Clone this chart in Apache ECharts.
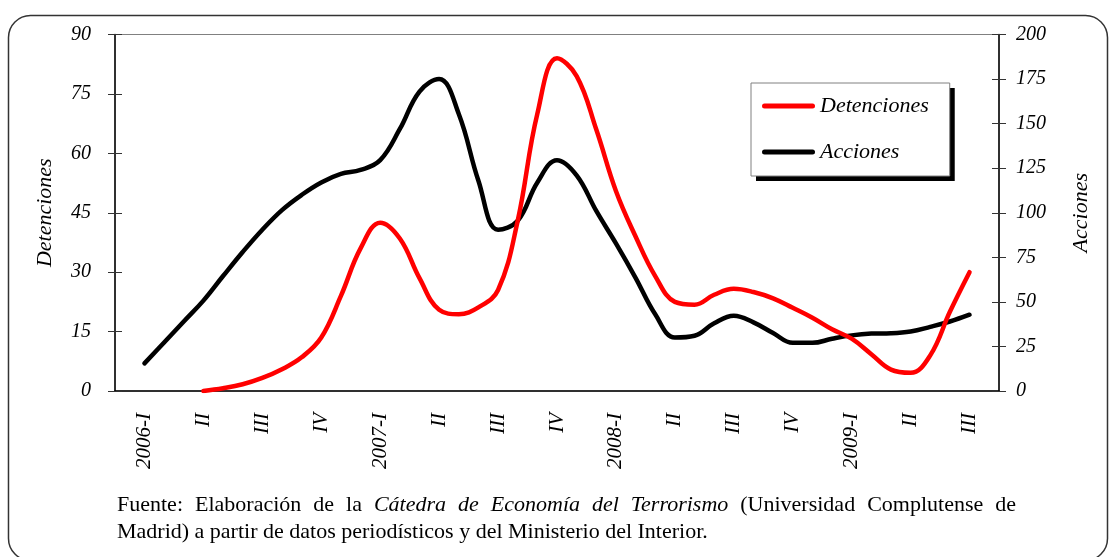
<!DOCTYPE html>
<html><head><meta charset="utf-8">
<script src="https://cdn.jsdelivr.net/npm/echarts@6/dist/echarts.min.js"></script>
<style>html,body{margin:0;padding:0;background:#fff}#c{width:1109px;height:557px}</style>
</head><body><div id="c"></div>
<script>
const quarterLabels = ['2006-I','II','III','IV','2007-I','II','III','IV','2008-I','II','III','IV','2009-I','II','III'];
const months = [];
for (let y = 2006; y <= 2009; y++) for (let m = 1; m <= 12; m++) if (months.length < 45) months.push(y + '-' + String(m).padStart(2, '0'));
const detenciones = [null, null, null, null, 0, 0.7, 1.7, 3.3, 5.5, 8.5, 13.5, 24, 36, 42.5, 38.5, 28.5, 20.5, 19.4, 21.1, 25.5, 43, 70, 84, 79.5, 66, 50.5, 39, 29, 22.5, 21.8, 24.3, 25.8, 25, 23.4, 21, 18.5, 15.6, 13.2, 9.3, 5.4, 4.6, 9, 20, 30, null];
const acciones = [null, 15.5, 27.2, 39, 50.7, 64.5, 78, 90.5, 101.5, 110, 117, 121.8, 124, 129.5, 147, 168, 175, 155.4, 118, 90.5, 95.5, 117, 129.5, 121, 101, 82.8, 63.5, 43, 30, 31, 38, 42.2, 38.5, 32.5, 27, 27, 29.3, 31.2, 32.2, 32.4, 33.4, 36, 39, 42.8, null];
const leftTicks = {min: 0, max: 90, interval: 15};
const rightTicks = {min: 0, max: 200, interval: 25};
const sourceLine1 = [['n','Fuente:'],['n','Elaboración'],['n','de'],['n','la'],['i','Cátedra'],['i','de'],['i','Economía'],['i','del'],['i','Terrorismo'],['n','(Universidad'],['n','Complutense'],['n','de']];
const sourceLine2 = 'Madrid) a partir de datos periodísticos y del Ministerio del Interior.';

const FF = 'Liberation Serif';
const iconPath = 'path://M2.5,0 L50.5,0 A2.5,2.5 0 0 1 50.5,5 L2.5,5 A2.5,2.5 0 0 1 2.5,0 Z';
const chart = echarts.init(document.getElementById('c'));
const tickStyle = {color: '#333', width: 1};
const legendBase = {
  data: ['Detenciones', 'Acciones'], orient: 'vertical', left: 751, top: 83,
  padding: [12, 21, 13, 11], itemGap: 24, itemWidth: 53, itemHeight: 5, icon: iconPath,
  textStyle: {fontFamily: FF, fontStyle: 'italic', fontSize: 22, color: '#000'}
};
const line1 = sourceLine1.map(([s, w]) => '{' + s + '|' + w + '}').join('{s| }');
chart.setOption({
  animation: false,
  backgroundColor: '#fff',
  graphic: [{type: 'rect', shape: {x: 8.5, y: 15.5, width: 1099, height: 545, r: 22}, style: {fill: 'none', stroke: '#333', lineWidth: 1.5}, silent: true}],
  title: {
    left: 112, top: 487,
    text: line1 + '\n{n|' + sourceLine2 + '}',
    textStyle: {fontWeight: 'normal', rich: {
      n: {fontFamily: FF, fontSize: 22, fontWeight: 'normal', color: '#000', lineHeight: 27},
      i: {fontFamily: FF, fontSize: 22, fontWeight: 'normal', color: '#000', lineHeight: 27, fontStyle: 'italic'},
      s: {fontFamily: FF, fontSize: 22, lineHeight: 27, width: 12}
    }}
  },
  legend: [
    Object.assign({}, legendBase, {backgroundColor: '#fff', borderWidth: 0,
      shadowColor: '#000', shadowBlur: 0, shadowOffsetX: 5, shadowOffsetY: 5}),
    Object.assign({}, legendBase, {backgroundColor: 'transparent', borderColor: '#808080', borderWidth: 1,
      itemStyle: {opacity: 0}, textStyle: Object.assign({}, legendBase.textStyle, {color: 'rgba(0,0,0,0)'})})
  ],
  grid: {left: 115, right: 110, top: 34.5, bottom: 166, show: true, borderColor: '#808080', borderWidth: 1, backgroundColor: 'transparent'},
  xAxis: [
    {type: 'category', data: quarterLabels, position: 'bottom', boundaryGap: true,
     axisLine: {lineStyle: {color: '#000', width: 1.5}}, axisTick: {length: 7, lineStyle: tickStyle},
     axisLabel: {rotate: 90, margin: 22, interval: 0, fontFamily: FF, fontStyle: 'italic', fontSize: 21, color: '#000'},
     splitLine: {show: false}},
    {type: 'category', data: months, boundaryGap: true, show: false, position: 'top'},
    {type: 'category', data: quarterLabels, position: 'bottom', boundaryGap: true,
     axisLine: {show: false}, axisTick: {inside: true, length: 7, lineStyle: tickStyle}, axisLabel: {show: false}, splitLine: {show: false}}
  ],
  yAxis: [
    Object.assign({type: 'value', position: 'left', name: 'Detenciones', nameLocation: 'middle', nameGap: 59, nameRotate: 90,
     nameTextStyle: {fontFamily: FF, fontStyle: 'italic', fontSize: 22, color: '#000'},
     axisLine: {show: true, lineStyle: {color: '#000', width: 1.5}}, axisTick: {show: true, length: 7, lineStyle: tickStyle},
     axisLabel: {margin: 24, fontFamily: FF, fontStyle: 'italic', fontSize: 20, color: '#000'}, splitLine: {show: false}}, leftTicks),
    Object.assign({type: 'value', position: 'right', name: 'Acciones', nameLocation: 'middle', nameGap: 71, nameRotate: 90,
     nameTextStyle: {fontFamily: FF, fontStyle: 'italic', fontSize: 22, color: '#000'},
     axisLine: {show: true, lineStyle: {color: '#000', width: 1.5}}, axisTick: {show: true, length: 7, lineStyle: tickStyle},
     axisLabel: {margin: 17, fontFamily: FF, fontStyle: 'italic', fontSize: 20, color: '#000'}, splitLine: {show: false}}, rightTicks),
    Object.assign({type: 'value', position: 'left', axisLine: {show: false}, axisTick: {show: true, inside: true, length: 7, lineStyle: tickStyle},
     axisLabel: {show: false}, splitLine: {show: false}}, leftTicks),
    Object.assign({type: 'value', position: 'right', axisLine: {show: false}, axisTick: {show: true, inside: true, length: 7, lineStyle: tickStyle},
     axisLabel: {show: false}, splitLine: {show: false}}, rightTicks)
  ],
  series: [
    {name: 'Acciones', type: 'line', xAxisIndex: 1, yAxisIndex: 1, data: acciones, smooth: 0.4, symbol: 'none',
     lineStyle: {color: '#000', width: 4.5, cap: 'round', join: 'round'}, itemStyle: {color: '#000'}},
    {name: 'Detenciones', type: 'line', xAxisIndex: 1, yAxisIndex: 0, data: detenciones, smooth: 0.4, symbol: 'none',
     lineStyle: {color: '#ff0000', width: 4.5, cap: 'round', join: 'round'}, itemStyle: {color: '#ff0000'}}
  ]
});
</script></body></html>
